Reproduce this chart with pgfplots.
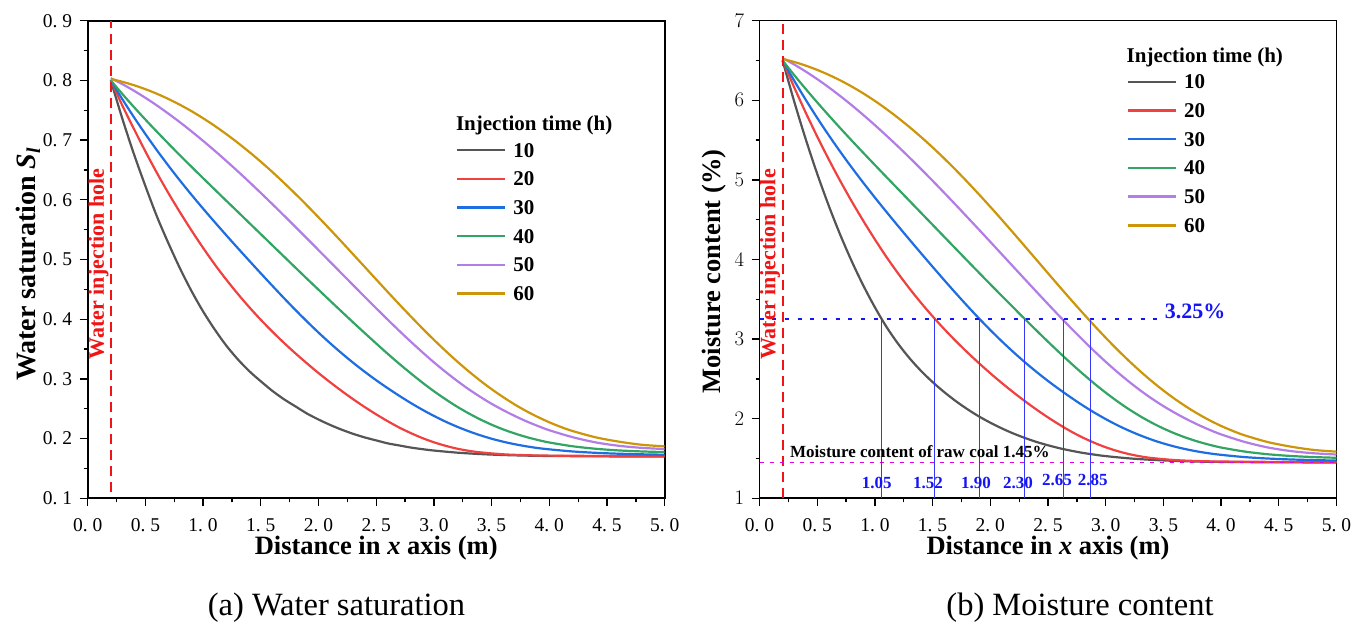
\documentclass[border=0pt]{standalone}
\usepackage{fontspec}
\setmainfont{Liberation Serif}
\usepackage{pgfplots}
\usepackage{pgfplotstable}
\pgfplotsset{compat=1.18}

\definecolor{c10}{RGB}{85,85,85}
\definecolor{c20}{RGB}{240,65,65}
\definecolor{c30}{RGB}{30,110,225}
\definecolor{c40}{RGB}{50,165,100}
\definecolor{c50}{RGB}{178,125,228}
\definecolor{c60}{RGB}{205,150,10}
\definecolor{hole}{RGB}{240,20,20}
\definecolor{ablue}{RGB}{20,20,245}
\definecolor{amag}{RGB}{225,0,225}

\newcommand\dd[2]{#1.\kern0.25em#2}

% columns: x, moisture content M (%), water saturation S
\pgfplotstableread{
x M S
0.2 6.500 0.800
0.3 5.988 0.736
0.4 5.514 0.677
0.5 5.077 0.623
0.6 4.676 0.572
0.7 4.309 0.527
0.8 3.975 0.485
0.9 3.672 0.447
1.0 3.399 0.413
1.1 3.154 0.383
1.2 2.943 0.356
1.3 2.760 0.333
1.4 2.600 0.313
1.5 2.460 0.296
1.6 2.335 0.280
1.7 2.222 0.266
1.8 2.121 0.254
1.9 2.030 0.242
2.0 1.950 0.232
2.1 1.878 0.223
2.2 1.814 0.215
2.3 1.758 0.208
2.4 1.708 0.202
2.5 1.666 0.197
2.6 1.629 0.192
2.7 1.598 0.1885
2.8 1.571 0.185
2.9 1.549 0.1823
3.0 1.530 0.180
3.2 1.502 0.1765
3.4 1.483 0.1741
3.6 1.470 0.1725
3.8 1.462 0.1715
4.0 1.457 0.1709
4.5 1.452 0.1702
5.0 1.450 0.1700
}\tA
\pgfplotstableread{
x M S
0.2 6.500 0.800
0.3 6.165 0.758
0.4 5.847 0.719
0.5 5.545 0.681
0.6 5.258 0.645
0.7 4.986 0.611
0.8 4.728 0.579
0.9 4.484 0.5485
1.0 4.252 0.5195
1.1 4.032 0.492
1.2 3.827 0.4665
1.3 3.635 0.4426
1.4 3.455 0.4201
1.5 3.286 0.399
1.6 3.127 0.3792
1.7 2.977 0.3605
1.8 2.835 0.3428
1.9 2.700 0.326
2.0 2.571 0.3098
2.1 2.448 0.2945
2.2 2.331 0.2799
2.3 2.220 0.2660
2.4 2.115 0.2529
2.5 2.016 0.2406
2.6 1.924 0.2291
2.7 1.839 0.2185
2.8 1.764 0.2092
2.9 1.698 0.2009
3.0 1.641 0.1938
3.1 1.594 0.1880
3.2 1.556 0.1832
3.3 1.527 0.1796
3.4 1.506 0.1770
3.6 1.480 0.1737
3.8 1.468 0.1722
4.0 1.462 0.1715
4.5 1.457 0.1709
5.0 1.455 0.1706
}\tB
\pgfplotstableread{
x M S
0.2 6.500 0.800
0.3 6.248 0.7686
0.4 6.008 0.7386
0.5 5.779 0.7101
0.6 5.561 0.6829
0.7 5.353 0.6570
0.8 5.154 0.6321
0.9 4.963 0.6083
1.0 4.778 0.5852
1.1 4.598 0.5628
1.2 4.422 0.5408
1.3 4.249 0.5192
1.4 4.078 0.4979
1.5 3.909 0.4768
1.6 3.742 0.4560
1.7 3.578 0.4355
1.8 3.418 0.4155
1.9 3.263 0.3962
2.0 3.114 0.3776
2.1 2.972 0.3599
2.2 2.837 0.3431
2.3 2.709 0.3271
2.4 2.588 0.3120
2.5 2.474 0.2978
2.6 2.367 0.2844
2.7 2.265 0.2717
2.8 2.168 0.2596
2.9 2.078 0.2484
3.0 1.995 0.2380
3.1 1.919 0.2285
3.2 1.851 0.2200
3.3 1.790 0.2124
3.4 1.736 0.2057
3.5 1.689 0.1998
3.6 1.649 0.1948
3.7 1.615 0.1906
3.8 1.587 0.1871
3.9 1.564 0.1842
4.0 1.546 0.1820
4.2 1.518 0.1785
4.4 1.500 0.1762
4.6 1.488 0.1747
4.8 1.480 0.1737
5.0 1.474 0.1730
}\tC
\pgfplotstableread{
x M S
0.2 6.500 0.800
0.3 6.318 0.7773
0.4 6.143 0.7555
0.5 5.974 0.7344
0.6 5.810 0.7140
0.7 5.650 0.6940
0.8 5.493 0.6744
0.9 5.339 0.6552
1.0 5.187 0.6362
1.1 5.036 0.6174
1.2 4.886 0.5986
1.3 4.736 0.5800
1.4 4.586 0.5612
1.5 4.436 0.5425
1.6 4.286 0.5238
1.7 4.136 0.5051
1.8 3.986 0.4864
1.9 3.837 0.4678
2.0 3.689 0.4494
2.1 3.542 0.4310
2.2 3.396 0.4128
2.3 3.251 0.3947
2.4 3.108 0.3769
2.5 2.967 0.3593
2.6 2.829 0.3420
2.7 2.695 0.3253
2.8 2.566 0.3093
2.9 2.443 0.2939
3.0 2.327 0.2794
3.1 2.219 0.2660
3.2 2.120 0.2536
3.3 2.030 0.2424
3.4 1.949 0.2323
3.5 1.877 0.2233
3.6 1.814 0.2154
3.7 1.759 0.2086
3.8 1.712 0.2027
3.9 1.672 0.1977
4.0 1.638 0.1935
4.2 1.588 0.1872
4.4 1.554 0.1830
4.6 1.532 0.1802
4.8 1.518 0.1785
5.0 1.509 0.1774
}\tD
\pgfplotstableread{
x M S
0.2 6.530 0.8038
0.3 6.450 0.7938
0.4 6.362 0.7828
0.5 6.266 0.7708
0.6 6.163 0.7580
0.7 6.053 0.7442
0.8 5.937 0.7298
0.9 5.815 0.7146
1.0 5.688 0.6987
1.1 5.556 0.6823
1.2 5.420 0.6653
1.3 5.280 0.6478
1.4 5.136 0.6299
1.5 4.989 0.6115
1.6 4.839 0.5928
1.7 4.687 0.5738
1.8 4.533 0.5546
1.9 4.378 0.5353
2.0 4.222 0.5158
2.1 4.065 0.4962
2.2 3.908 0.4767
2.3 3.751 0.4571
2.4 3.595 0.4376
2.5 3.440 0.4183
2.6 3.287 0.3992
2.7 3.137 0.3805
2.8 2.991 0.3623
2.9 2.850 0.3447
3.0 2.715 0.3278
3.1 2.587 0.3119
3.2 2.467 0.2969
3.3 2.355 0.2829
3.4 2.252 0.2701
3.5 2.158 0.2583
3.6 2.073 0.2477
3.7 1.995 0.2380
3.8 1.924 0.2291
3.9 1.860 0.2212
4.0 1.803 0.2140
4.2 1.710 0.2025
4.4 1.640 0.1937
4.6 1.594 0.1880
4.8 1.566 0.1845
5.0 1.550 0.1825
}\tE
\pgfplotstableread{
x M S
0.2 6.520 0.8025
0.3 6.482 0.7977
0.4 6.436 0.7920
0.5 6.382 0.7853
0.6 6.320 0.7776
0.7 6.250 0.7688
0.8 6.172 0.7591
0.9 6.086 0.7484
1.0 5.992 0.7366
1.1 5.890 0.7239
1.2 5.780 0.7102
1.3 5.663 0.6956
1.4 5.539 0.6801
1.5 5.408 0.6638
1.6 5.270 0.6466
1.7 5.126 0.6286
1.8 4.976 0.6099
1.9 4.821 0.5906
2.0 4.662 0.5707
2.1 4.499 0.5504
2.2 4.333 0.5297
2.3 4.165 0.5087
2.4 3.996 0.4877
2.5 3.827 0.4666
2.6 3.659 0.4456
2.7 3.493 0.4249
2.8 3.330 0.4046
2.9 3.171 0.3847
3.0 3.017 0.3655
3.1 2.869 0.3471
3.2 2.728 0.3295
3.3 2.595 0.3129
3.4 2.470 0.2973
3.5 2.354 0.2828
3.6 2.247 0.2695
3.7 2.149 0.2572
3.8 2.060 0.2461
3.9 1.980 0.2362
4.0 1.909 0.2273
4.1 1.847 0.2195
4.2 1.793 0.2128
4.4 1.708 0.2022
4.6 1.650 0.1950
4.8 1.608 0.1897
5.0 1.586 0.1870
}\tF

\pgfplotsset{
  panel/.style={
    scale only axis, width=577bp, height=477.6bp, anchor=south west,
    xmin=0, xmax=5, xtick={0,0.5,...,5}, minor x tick num=1,
    xticklabels={\dd00,\dd05,\dd10,\dd15,\dd20,\dd25,\dd30,\dd35,\dd40,\dd45,\dd50},
    minor y tick num=1,
    tick align=outside, xtick pos=bottom, ytick pos=left,
    major tick length=8bp, minor tick length=4bp,
    every tick/.style={black, line width=1.3bp},
    axis line style={line width=1.6bp},
    tick label style={font=\fontsize{19.5bp}{21bp}\selectfont},
    xticklabel style={yshift=-9bp},
    yticklabel style={xshift=-4bp},
    label style={font=\bfseries\fontsize{26.5bp}{28bp}\selectfont},
    xlabel={Distance in \textit{x} axis (m)},
    xlabel style={at={(axis description cs:0.5,-0.104)}, anchor=center},
    legend cell align=left,
    legend image code/.code={\draw[#1, line width=2.4bp] (0bp,0bp) -- (48bp,0bp);},
    legend style={draw=none, fill=none, anchor=north west, inner sep=0bp,
      font=\bfseries\fontsize{21bp}{22bp}\selectfont,
      row sep=14.7bp,
      nodes={inner sep=0bp, text height=14bp, text depth=0bp},
      /tikz/every odd column/.append style={column sep=7bp}},
    every axis plot/.append style={line width=2.2bp, smooth},
  },
}

\begin{document}
\begin{tikzpicture}
\path (0bp,0bp) rectangle (1355bp,620bp);

% ---------- (a) ----------
\begin{axis}[panel, at={(87.7bp,121.7bp)},
  ymin=0.1, ymax=0.9, ytick={0.1,0.2,...,0.9},
  yticklabels={\dd01,\dd02,\dd03,\dd04,\dd05,\dd06,\dd07,\dd08,\dd09},
  ylabel={Water saturation \textit{S}\textsubscript{\textit{l}}},
  ylabel style={at={(axis description cs:-0.1035,0.49)}, anchor=center, font=\bfseries\fontsize{28bp}{30bp}\selectfont},
  legend style={at={(axis description cs:0.638,0.744)}},
]
\addplot[c10] table[x=x,y=S]{\tA}; \addlegendentry{10}
\addplot[c20] table[x=x,y=S]{\tB}; \addlegendentry{20}
\addplot[c30] table[x=x,y=S]{\tC}; \addlegendentry{30}
\addplot[c40] table[x=x,y=S]{\tD}; \addlegendentry{40}
\addplot[c50] table[x=x,y=S]{\tE}; \addlegendentry{50}
\addplot[c60] table[x=x,y=S]{\tF}; \addlegendentry{60}
\addplot[hole, line width=2bp, dash pattern=on 10bp off 6bp, sharp plot, forget plot] coordinates {(0.2,0.11) (0.2,0.9)};
\node[rotate=90, text=hole, font=\bfseries\fontsize{22bp}{24bp}\selectfont] at (axis cs:0.095,0.4925) {Water injection hole};
\node[anchor=base west, inner sep=0bp, font=\bfseries\fontsize{21bp}{22bp}\selectfont] at (axis description cs:0.638,0.7697) {Injection time (h)};
\end{axis}

% ---------- (b) ----------
\begin{axis}[panel, at={(759.5bp,121.7bp)},
  ymin=1, ymax=7, ytick={1,...,7},
  ylabel={Moisture content (\%)},
  ylabel style={at={(axis description cs:-0.079,0.475)}, anchor=center},
  legend style={at={(axis description cs:0.636,0.887)}},
]
\addplot[c10] table[x=x,y=M]{\tA}; \addlegendentry{10}
\addplot[c20] table[x=x,y=M]{\tB}; \addlegendentry{20}
\addplot[c30] table[x=x,y=M]{\tC}; \addlegendentry{30}
\addplot[c40] table[x=x,y=M]{\tD}; \addlegendentry{40}
\addplot[c50] table[x=x,y=M]{\tE}; \addlegendentry{50}
\addplot[c60] table[x=x,y=M]{\tF}; \addlegendentry{60}
\addplot[hole, line width=2bp, dash pattern=on 10bp off 6bp, sharp plot, forget plot] coordinates {(0.2,1) (0.2,7)};
\addplot[ablue, line width=2bp, dash pattern=on 4bp off 8.7bp, sharp plot, forget plot] coordinates {(0,3.25) (3.46,3.25)};
\addplot[amag, line width=1.8bp, dash pattern=on 4bp off 6bp, sharp plot, forget plot] coordinates {(0,1.45) (5,1.45)};
\addplot[ablue!85!white, line width=1bp, forget plot, ycomb] coordinates {(1.06,3.25) (1.52,3.25) (1.91,3.25) (2.295,3.25) (2.63,3.25) (2.865,3.25)};
\node[rotate=90, text=hole, font=\bfseries\fontsize{22bp}{24bp}\selectfont] at (axis cs:0.091,3.937) {Water injection hole};
\node[anchor=base west, inner sep=0bp, font=\bfseries\fontsize{21bp}{22bp}\selectfont] at (axis description cs:0.636,0.913) {Injection time (h)};
\node[text=ablue, font=\bfseries\fontsize{22bp}{24bp}\selectfont] at (axis cs:3.774,3.344) {3.25\%};
\node[anchor=west, inner sep=0bp, font=\bfseries\fontsize{17bp}{18bp}\selectfont] at (axis cs:0.264,1.585) {Moisture content of raw coal 1.45\%};
\begin{scope}[every node/.style={text=ablue, font=\bfseries\fontsize{17bp}{18bp}\selectfont}]
\node at (axis cs:1.016,1.188) {1.05};
\node at (axis cs:1.460,1.188) {1.52};
\node at (axis cs:1.876,1.188) {1.90};
\node at (axis cs:2.240,1.188) {2.30};
\node at (axis cs:2.578,1.23) {2.65};
\node at (axis cs:2.887,1.23) {2.85};
\end{scope}
\end{axis}

\node[anchor=base, font=\fontsize{32.5bp}{34bp}\selectfont] at (336.5bp,5bp) {(a) Water saturation};
\node[anchor=base, font=\fontsize{32.5bp}{34bp}\selectfont] at (1080bp,5bp) {(b) Moisture content};
\end{tikzpicture}
\end{document}
